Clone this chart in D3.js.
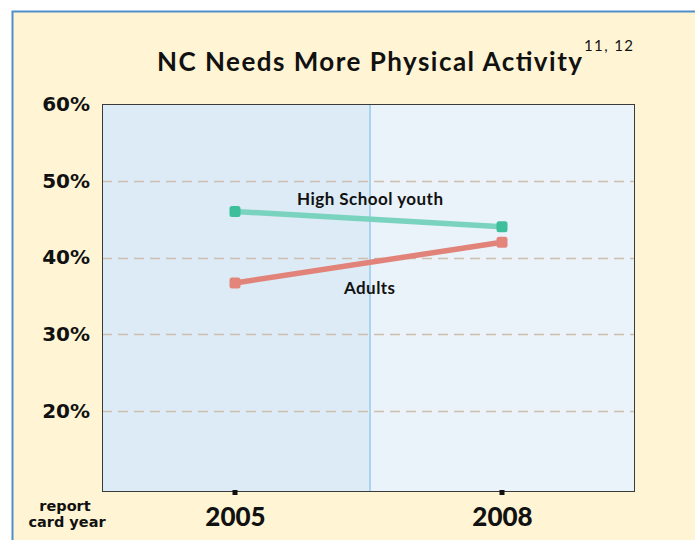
<!DOCTYPE html>
<html lang="en">
<head>
<meta charset="UTF-8">
<title>NC Needs More Physical Activity</title>
<script src="https://d3js.org/d3.v7.min.js"></script>
<style>
  body { margin: 0; background: #ffffff; }
  svg { display: block; font-family: Lato, "Noto Sans", sans-serif; }
</style>
</head>
<body>
<svg width="695" height="540"></svg>
<script>
  // data
  const years = ["2005", "2008"];
  const highSchool = [46, 44];
  const adults = [36.7, 42];
  const yTicks = [20, 30, 40, 50, 60];

  const width = 695, height = 540;
  const margin = { top: 104, right: 61, bottom: 49, left: 102 };

  const svg = d3.select("svg");

  // cream panel with blue border
  svg.append("rect")
    .attr("x", 12.5).attr("y", 11.5)
    .attr("width", width).attr("height", height)
    .attr("fill", "#fff5d5")
    .attr("stroke", "#4e8fc9")
    .attr("stroke-width", 2);

  const x = d3.scalePoint()
    .domain(years)
    .range([235, 502]);

  const y = d3.scaleLinear()
    .domain([9.6, 60])
    .range([height - margin.bottom, margin.top]);

  const plotL = margin.left, plotR = width - margin.right;
  const plotT = margin.top, plotB = height - margin.bottom;
  const mid = (x("2005") + x("2008")) / 2 + 1;

  // plot background halves
  svg.append("rect")
    .attr("x", plotL).attr("y", plotT)
    .attr("width", mid - plotL).attr("height", plotB - plotT)
    .attr("fill", "#dcebf6");
  svg.append("rect")
    .attr("x", mid).attr("y", plotT)
    .attr("width", plotR - mid).attr("height", plotB - plotT)
    .attr("fill", "#eaf2fa");

  // dashed grid
  svg.append("g")
    .selectAll("line")
    .data(yTicks.filter(d => d < 60))
    .join("line")
    .attr("x1", plotL).attr("x2", plotR)
    .attr("y1", d => Math.round(y(d)) + 0.5)
    .attr("y2", d => Math.round(y(d)) + 0.5)
    .attr("stroke", "#cdbfaf")
    .attr("stroke-width", 1.3)
    .attr("stroke-dasharray", "10,6");

  // divider
  svg.append("line")
    .attr("x1", mid + 0.5).attr("x2", mid + 0.5)
    .attr("y1", plotT).attr("y2", plotB)
    .attr("stroke", "#6ab4e8")
    .attr("stroke-width", 1);

  // plot frame
  svg.append("rect")
    .attr("x", plotL + 0.5).attr("y", plotT + 0.5)
    .attr("width", plotR - plotL).attr("height", plotB - plotT)
    .attr("fill", "none")
    .attr("stroke", "#3a3a3a")
    .attr("stroke-width", 1);

  // y axis labels
  const yAxis = d3.axisLeft(y)
    .tickValues(yTicks)
    .tickSize(0)
    .tickPadding(12)
    .tickFormat(d => d + "%");
  svg.append("g")
    .attr("transform", `translate(${plotL},0)`)
    .call(yAxis)
    .call(g => g.select(".domain").remove())
    .selectAll("text")
    .attr("font-family", "'DejaVu Sans', sans-serif")
    .attr("font-size", 20)
    .attr("font-weight", 700)
    .attr("fill", "#111");

  // x axis
  const xAxis = d3.axisBottom(x)
    .tickSize(0)
    .tickPadding(17);
  svg.append("g")
    .attr("transform", `translate(0,${plotB})`)
    .call(xAxis)
    .call(g => g.select(".domain").remove())
    .selectAll("text")
    .attr("font-family", "Lato, sans-serif")
    .attr("font-size", 26)
    .attr("font-weight", 900)
    .attr("fill", "#111");

  svg.append("g")
    .selectAll("rect")
    .data(years)
    .join("rect")
    .attr("x", d => x(d) - 2.5)
    .attr("y", plotB - 1)
    .attr("width", 5).attr("height", 5)
    .attr("fill", "#111");

  const axisTitle = svg.append("g")
    .attr("font-family", "'DejaVu Sans', sans-serif")
    .attr("font-size", 14.5).attr("font-weight", 700)
    .attr("fill", "#111")
    .attr("text-anchor", "middle");
  axisTitle.append("text").attr("x", 65).attr("y", 511).text("report");
  axisTitle.append("text").attr("x", 67).attr("y", 527).text("card year");

  // series
  const series = [
    { name: "High School youth", values: highSchool, line: "#7ad3bf", dot: "#3dbf9b" },
    { name: "Adults", values: adults, line: "#e2837a", dot: "#e4857c" }
  ];

  const line = d3.line()
    .x((d, i) => x(years[i]))
    .y(d => y(d));

  series.forEach(s => {
    svg.append("path")
      .datum(s.values)
      .attr("d", line)
      .attr("fill", "none")
      .attr("stroke", s.line)
      .attr("stroke-width", 5.5);

    svg.append("g")
      .selectAll("rect")
      .data(s.values)
      .join("rect")
      .attr("x", (d, i) => x(years[i]) - 5.5)
      .attr("y", d => y(d) - 5.5)
      .attr("width", 11).attr("height", 11)
      .attr("rx", 2.5)
      .attr("fill", s.dot);
  });

  svg.append("text")
    .attr("x", 297).attr("y", 205)
    .attr("textLength", 146).attr("lengthAdjust", "spacing")
    .attr("font-size", 17).attr("font-weight", 700)
    .attr("fill", "#111")
    .text("High School youth");
  svg.append("text")
    .attr("x", 344).attr("y", 294)
    .attr("textLength", 51).attr("lengthAdjust", "spacing")
    .attr("font-size", 17).attr("font-weight", 700)
    .attr("fill", "#111")
    .text("Adults");

  // title
  svg.append("text")
    .attr("x", 157).attr("y", 71)
    .attr("textLength", 425).attr("lengthAdjust", "spacing")
    .attr("font-size", 26).attr("font-weight", 700)
    .attr("fill", "#111")
    .text("NC Needs More Physical Activity");
  svg.append("text")
    .attr("x", 584).attr("y", 51)
    .attr("textLength", 49).attr("lengthAdjust", "spacing")
    .attr("font-size", 15)
    .attr("fill", "#111")
    .text("11, 12");
</script>
</body>
</html>
